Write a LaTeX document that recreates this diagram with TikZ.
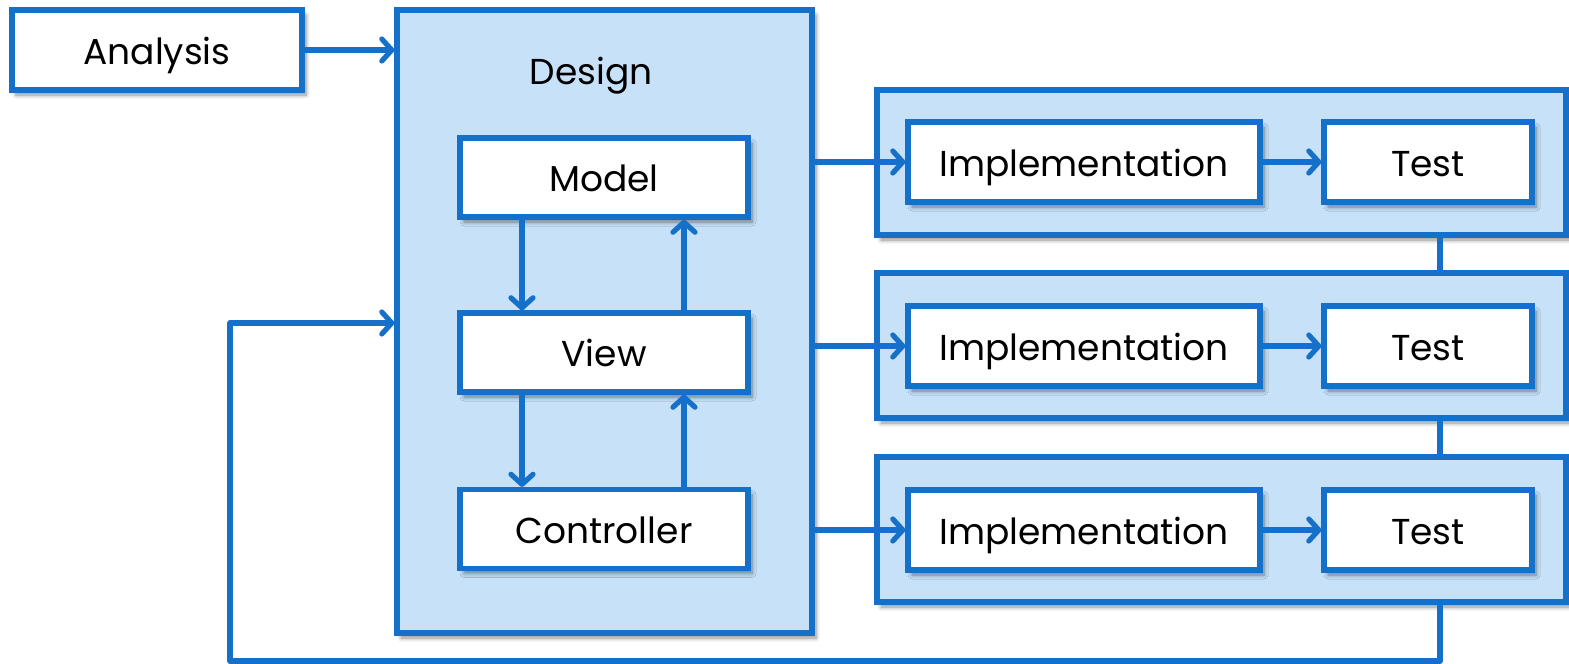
\documentclass[tikz,border=0pt]{standalone}
\usepackage{fontspec}
\setmainfont{Poppins}
\usetikzlibrary{arrows.meta,calc,shadows,shadows.blur}
\definecolor{cblue}{RGB}{20,112,200}
\definecolor{cfill}{RGB}{199,225,248}
\tikzset{
  x=0.5pt, y=-0.5pt,
  shad/.style={blur shadow={shadow xshift=2pt, shadow yshift=-2.5pt, shadow blur steps=6, shadow blur radius=2pt, shadow opacity=45}},
  txt/.style={font=\fontsize{18}{20}\selectfont, text height=15pt, text depth=1pt},
  box/.style={draw=cblue, line width=2.6pt, fill=white, shad, inner sep=0pt, txt},
  group/.style={draw=cblue, line width=2.6pt, fill=cfill, shad, inner sep=0pt},
  conn/.style={draw=cblue, line width=2.6pt},
  arr/.style={conn, -{Straight Barb[length=5pt,width=11pt,line cap=round,line join=round]}},
}
\begin{document}
\begin{tikzpicture}
\useasboundingbox (0,0) rectangle (1569,664);
% groups (containers)
\node[group, minimum width=207.5pt, minimum height=311.5pt] (Design) at (604.5,321.5) {};
\node[txt, inner sep=0pt] (DesignLabel) at (591,70) {Design};
\node[group, minimum width=344.5pt, minimum height=72.5pt] (G1) at (1221.5,162.5) {};
\node[group, minimum width=344.5pt, minimum height=72.5pt] (G2) at (1221.5,345.5) {};
\node[group, minimum width=344.5pt, minimum height=72.5pt] (G3) at (1221.5,529.5) {};
% boxes
\node[box, minimum width=145pt, minimum height=40pt] (Analysis) at (157,50) {Analysis};
\node[box, minimum width=144pt, minimum height=39.5pt] (Model) at (604,177.5) {Model};
\node[box, minimum width=144pt, minimum height=39.5pt] (View) at (604,352.5) {View};
\node[box, minimum width=144pt, minimum height=39.5pt] (Controller) at (604,529) {Controller};
\node[box, minimum width=176pt, minimum height=40pt] (I1) at (1084,162) {Implementation};
\node[box, minimum width=104pt, minimum height=40pt] (T1) at (1428,162) {Test};
\node[box, minimum width=176pt, minimum height=40pt] (I2) at (1084,346) {Implementation};
\node[box, minimum width=104pt, minimum height=40pt] (T2) at (1428,346) {Test};
\node[box, minimum width=176pt, minimum height=40pt] (I3) at (1084,530) {Implementation};
\node[box, minimum width=104pt, minimum height=40pt] (T3) at (1428,530) {Test};
% coordinates
\coordinate (xl) at (1440,0);
\coordinate (bot) at (0,661);
\coordinate (fbx) at (230,323);
\coordinate (xa) at (522,0);
\coordinate (xb) at (684,0);
% connectors
\draw[arr] (Analysis.east) -- (Analysis.east -| Design.west);
\draw[arr] (Model.south -| xa) -- (View.north -| xa);
\draw[arr] (View.north -| xb) -- (Model.south -| xb);
\draw[arr] (View.south -| xa) -- (Controller.north -| xa);
\draw[arr] (Controller.north -| xb) -- (View.south -| xb);
\draw[arr] (Design.east |- I1.west) -- (I1.west);
\draw[arr] (Design.east |- I2.west) -- (I2.west);
\draw[arr] (Design.east |- I3.west) -- (I3.west);
\draw[arr] (I1.east) -- (T1.west);
\draw[arr] (I2.east) -- (T2.west);
\draw[arr] (I3.east) -- (T3.west);
\draw[conn] (G1.south -| xl) -- (G2.north -| xl);
\draw[conn] (G2.south -| xl) -- (G3.north -| xl);
\draw[arr, line join=round] (G3.south -| xl) -- (xl |- bot) -- (fbx |- bot) -- (fbx) -- (fbx -| Design.west);
\end{tikzpicture}
\end{document}
